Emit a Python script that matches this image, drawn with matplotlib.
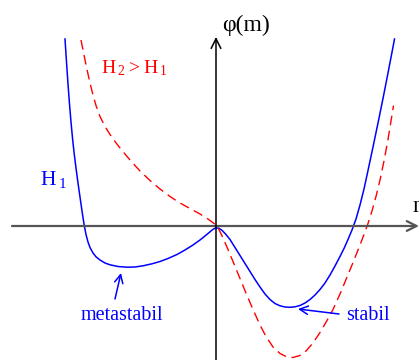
import matplotlib
matplotlib.use("Agg")
import matplotlib.pyplot as plt

plt.rcParams['font.family'] = ['Liberation Serif', 'DejaVu Serif']
plt.rcParams['mathtext.fontset'] = 'custom'
plt.rcParams['mathtext.rm'] = 'Liberation Serif'

# free energy phi(m) for field H1 (solid) -- two minima, one metastable
m_h1 = [-1.51, -1.495, -1.48, -1.465, -1.45, -1.435, -1.42, -1.40, -1.38, -1.36,
        -1.34, -1.32, -1.30, -1.28, -1.26, -1.23, -1.20, -1.16, -1.11, -1.06,
        -0.98, -0.89, -0.81, -0.73, -0.64, -0.56, -0.48, -0.39, -0.31, -0.23,
        -0.16, -0.11, -0.06, -0.03, 0.00, 0.03, 0.06, 0.10, 0.14, 0.19,
        0.24, 0.29, 0.34, 0.39, 0.44, 0.49, 0.54, 0.59, 0.64, 0.69,
        0.74, 0.79, 0.84, 0.89, 0.94, 0.99, 1.04, 1.09, 1.14, 1.19,
        1.24, 1.28, 1.32, 1.36, 1.40, 1.44, 1.48, 1.52, 1.57, 1.62,
        1.67, 1.72, 1.77, 1.785]
phi_h1 = [1.87, 1.64, 1.42, 1.22, 1.04, 0.88, 0.74, 0.58, 0.43, 0.29,
          0.15, 0.02, -0.085, -0.16, -0.215, -0.27, -0.308, -0.34, -0.37, -0.388,
          -0.405, -0.412, -0.41, -0.398, -0.378, -0.355, -0.325, -0.285, -0.24, -0.19,
          -0.14, -0.10, -0.058, -0.033, -0.018, -0.023, -0.043, -0.085, -0.135, -0.215,
          -0.295, -0.375, -0.455, -0.535, -0.61, -0.68, -0.735, -0.775, -0.798, -0.81,
          -0.813, -0.808, -0.795, -0.77, -0.735, -0.69, -0.635, -0.57, -0.49, -0.40,
          -0.305, -0.225, -0.135, -0.04, 0.07, 0.21, 0.37, 0.555, 0.79, 1.03,
          1.275, 1.53, 1.79, 1.87]

# same for the larger field H2 (dashed)
m_h2 = [-1.35, -1.32, -1.29, -1.26, -1.23, -1.20, -1.16, -1.11, -1.06, -1.01,
        -0.96, -0.86, -0.76, -0.66, -0.56, -0.46, -0.36, -0.26, -0.16, -0.08,
        0.00, 0.03, 0.07, 0.12, 0.17, 0.24, 0.31, 0.37, 0.44, 0.50,
        0.57, 0.64, 0.71, 0.77, 0.84, 0.90, 0.97, 1.04, 1.11, 1.17,
        1.24, 1.31, 1.36, 1.40, 1.44, 1.48, 1.52, 1.56, 1.60, 1.64,
        1.68, 1.72, 1.76, 1.775]
phi_h2 = [1.86, 1.71, 1.565, 1.43, 1.31, 1.205, 1.095, 0.995, 0.915, 0.845,
          0.78, 0.66, 0.55, 0.455, 0.37, 0.295, 0.23, 0.175, 0.12, 0.07,
          0.01, -0.035, -0.12, -0.235, -0.355, -0.525, -0.695, -0.835, -0.99, -1.105,
          -1.21, -1.275, -1.31, -1.315, -1.295, -1.25, -1.17, -1.065, -0.945, -0.835,
          -0.68, -0.51, -0.39, -0.29, -0.19, -0.085, 0.025, 0.15, 0.295, 0.46,
          0.65, 0.865, 1.11, 1.205]

blue = '#0000ff'
red = '#ff0000'

fig = plt.figure(figsize=(4.19, 3.60), dpi=100)
ax = fig.add_axes([0, 0, 1, 1])
ax.set_xlim(-2.16, 2.03)
ax.set_ylim(-1.34, 2.26)
ax.axis('off')

# axes with open arrow heads
ax.annotate('', xy=(2.03, 0), xytext=(-2.04, 0),
            arrowprops=dict(arrowstyle='->,head_length=0.7,head_width=0.35',
                            color='#555555', lw=1.6, shrinkA=0, shrinkB=0))
ax.annotate('', xy=(0, 1.89), xytext=(0, -1.34),
            arrowprops=dict(arrowstyle='->,head_length=0.7,head_width=0.35',
                            color='black', lw=1.1, shrinkA=0, shrinkB=0))

ax.plot(m_h1, phi_h1, color=blue, lw=1.1, solid_joinstyle='round')
ax.plot(m_h2, phi_h2, color=red, lw=1.0, dashes=(7, 4))

ax.text(0.06, 1.945, 'φ(m)', fontsize=17, ha='left', va='baseline')
ax.text(1.96, 0.14, 'm', fontsize=17, ha='left', va='baseline')
ax.text(-1.15, 1.53, r'$\mathregular{H_{\,2} > H_{\,1}}$', fontsize=14,
        color=red, ha='left', va='baseline')
ax.text(-1.76, 0.41, r'$\mathregular{H_{\,1}}$', fontsize=15.5,
        color=blue, ha='left', va='baseline')
ax.text(-1.35, -0.945, 'metastabil', fontsize=14.5, color=blue,
        ha='left', va='baseline')
ax.text(1.30, -0.945, 'stabil', fontsize=14.5, color=blue,
        ha='left', va='baseline')

ax.annotate('', xy=(-0.95, -0.47), xytext=(-1.01, -0.73),
            arrowprops=dict(arrowstyle='->,head_length=0.6,head_width=0.3',
                            color=blue, lw=1.1, shrinkA=0, shrinkB=0))
ax.annotate('', xy=(0.82, -0.83), xytext=(1.23, -0.88),
            arrowprops=dict(arrowstyle='->,head_length=0.6,head_width=0.3',
                            color=blue, lw=1.1, shrinkA=0, shrinkB=0))

fig.savefig('out.png', dpi=100)
